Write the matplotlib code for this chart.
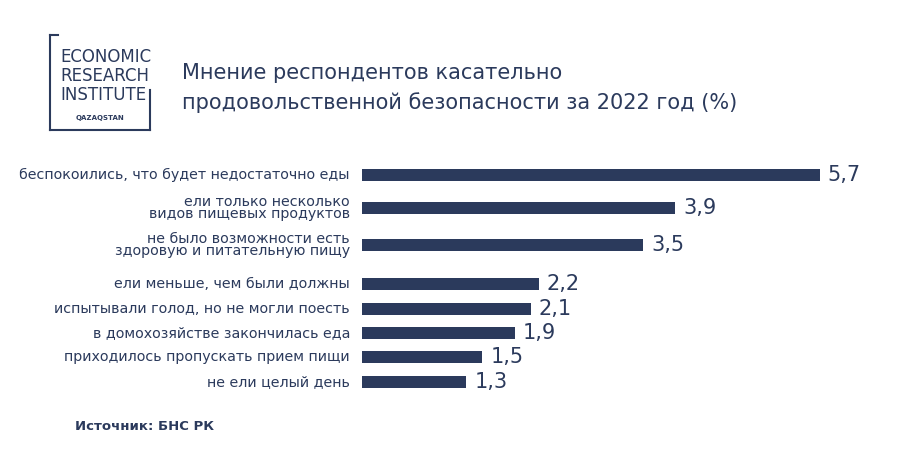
import matplotlib.pyplot as plt
from matplotlib.lines import Line2D

labels = ["беспокоились, что будет недостаточно еды",
          "ели только несколько\nвидов пищевых продуктов",
          "не было возможности есть\nздоровую и питательную пищу",
          "ели меньше, чем были должны",
          "испытывали голод, но не могли поесть",
          "в домохозяйстве закончилась еда",
          "приходилось пропускать прием пищи",
          "не ели целый день"]
values = [5.7, 3.9, 3.5, 2.2, 2.1, 1.9, 1.5, 1.3]
ypos = [175, 208, 245, 284, 309, 333, 357, 382]  # pixel rows of bars

W, H = 924, 458
navy = "#2b3a5c"
plt.rcParams["font.family"] = ["DejaVu Sans"]

fig = plt.figure(figsize=(W / 100, H / 100), dpi=100)
x0 = 362
ax = fig.add_axes([x0 / W, 0, 1 - x0 / W, 1])
ax.set_ylim(H, 0)
ax.set_xlim(0, (W - x0) / 80.3)
ax.axis("off")
ax.barh(ypos, values, height=12, color=navy)
for y, v, lab in zip(ypos, values, labels):
    ax.text(v + 0.1, y, f"{v:.1f}".replace(".", ","), va="center", ha="left",
            fontsize=15, color=navy)
    ax.text(-0.15, y, lab, va="center", ha="right", fontsize=10.3,
            color=navy, linespacing=0.9)

# logo
for xs, ys in [([50, 50], [35, 130]), ([50, 150], [130, 130]),
               ([50, 58], [35, 35]), ([150, 150], [90, 130])]:
    fig.add_artist(Line2D([x / W for x in xs], [1 - y / H for y in ys],
                          color=navy, lw=1.5))
fig.text(60 / W, 1 - 76 / H, "ECONOMIC\nRESEARCH\nINSTITUTE", fontsize=12,
         color=navy, linespacing=1.05, va="center")
fig.text(100 / W, 1 - 118 / H, "QAZAQSTAN", fontsize=5, color=navy,
         fontweight="bold", ha="center", va="center")

fig.text(182 / W, 1 - 88 / H,
         "Мнение респондентов касательно\nпродовольственной безопасности за 2022 год (%)",
         fontsize=15, color=navy, va="center", linespacing=1.5)
fig.text(75 / W, 1 - 427 / H, "Источник: БНС РК", fontsize=9.5, color=navy,
         fontweight="bold", va="center")

fig.savefig("out.png", dpi=100, facecolor="white")
